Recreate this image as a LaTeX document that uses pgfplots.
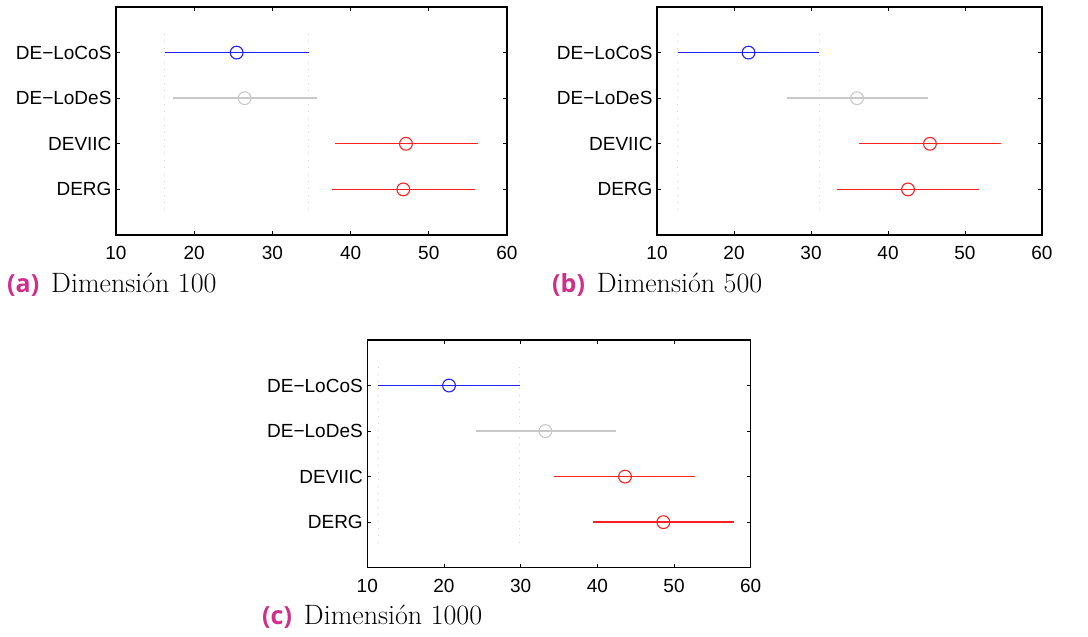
\documentclass[border=0pt]{standalone}
\usepackage{pgfplots}
\pgfplotsset{compat=1.18}
\usepackage{fontspec}
\newfontfamily\arialf{Liberation Sans}
\newfontfamily\capsf{Open Sans}
\definecolor{capmag}{HTML}{D02E8A}
\definecolor{ltgray}{HTML}{C8C8C8}
\definecolor{dotgray}{HTML}{D0D0D0}
\definecolor{mred}{HTML}{FF2020}
\definecolor{mblue}{HTML}{2020FF}
\pgfplotsset{
  panel/.style={
    scale only axis,
    xmin=10, xmax=60, ymin=0, ymax=5,
    y dir=reverse,
    ytick={1,2,3,4},
    yticklabels={DE−LoCoS,DE−LoDeS,DEVIIC,DERG},
    xtick={10,20,...,60},
    tick align=inside, tick pos=both,
    major tick length=4pt,
    axis line style={line width=1.3pt},
    tick style={black, line width=0.8pt},
    ticklabel style={font=\arialf\fontsize{19}{21}\selectfont},
    yticklabel style={xshift=-1pt},
    xticklabel style={yshift=-8pt},
    /pgf/number format/assume math mode=true,
  },
  seg/.style={line width=1.4pt, no marks},
  pt/.style={only marks, mark=o, mark size=6.4pt, mark options={line width=1.1pt}},
  grd/.style={dotgray, line width=1pt, dash pattern=on 1pt off 6pt, no marks},
}
\newcommand\subcap[2]{{\capsf\bfseries\fontsize{25}{28}\selectfont\color{capmag}(#1)}\hspace{12pt}{\fontsize{28}{31}\selectfont Dimensión #2}}
\begin{document}
\begin{tikzpicture}[x=1pt,y=1pt]
\path (0,0) rectangle (1088,637);
% ---------- (a) ----------
\begin{axis}[panel, at={(116pt,402pt)}, anchor=south west, width=391pt, height=228pt]
\addplot[grd] coordinates {(16.23,0.6) (16.23,4.5)};
\addplot[grd] coordinates {(34.64,0.6) (34.64,4.5)};
\addplot[seg, mblue] coordinates {(16.23,1) (34.64,1)};
\addplot[pt, mblue] coordinates {(25.43,1)};
\addplot[seg, ltgray] coordinates {(17.33,2) (35.66,2)};
\addplot[pt, ltgray] coordinates {(26.46,2)};
\addplot[seg, mred] coordinates {(38.00,3) (56.25,3)};
\addplot[pt, mred] coordinates {(47.08,3)};
\addplot[seg, mred] coordinates {(37.66,4) (55.90,4)};
\addplot[pt, mred] coordinates {(46.74,4)};
\end{axis}
% ---------- (b) ----------
\begin{axis}[panel, at={(657pt,402pt)}, anchor=south west, width=385pt, height=228pt]
\addplot[grd] coordinates {(12.72,0.6) (12.72,4.5)};
\addplot[grd] coordinates {(31.05,0.6) (31.05,4.5)};
\addplot[seg, mblue] coordinates {(12.72,1) (31.05,1)};
\addplot[pt, mblue] coordinates {(21.89,1)};
\addplot[seg, ltgray] coordinates {(26.82,2) (45.19,2)};
\addplot[pt, ltgray] coordinates {(35.98,2)};
\addplot[seg, mred] coordinates {(36.24,3) (54.62,3)};
\addplot[pt, mred] coordinates {(45.45,3)};
\addplot[seg, mred] coordinates {(33.43,4) (51.80,4)};
\addplot[pt, mred] coordinates {(42.60,4)};
\end{axis}
% ---------- (c) ----------
\begin{axis}[panel, at={(367.3pt,69.3pt)}, anchor=south west, width=383.4pt, height=227.7pt]
\addplot[grd] coordinates {(11.44,0.6) (11.44,4.5)};
\addplot[grd] coordinates {(29.87,0.6) (29.87,4.5)};
\addplot[seg, mblue] coordinates {(11.44,1) (29.87,1)};
\addplot[pt, mblue] coordinates {(20.66,1)};
\addplot[seg, ltgray] coordinates {(24.13,2) (42.44,2)};
\addplot[pt, ltgray] coordinates {(33.22,2)};
\addplot[seg, mred] coordinates {(34.39,3) (52.79,3)};
\addplot[pt, mred] coordinates {(43.61,3)};
\addplot[seg, mred] coordinates {(39.40,4) (57.79,4)};
\addplot[pt, mred] coordinates {(48.61,4)};
\end{axis}
% ---------- captions ----------
\node[anchor=base west, inner sep=0pt] at (7,344) {\subcap{a}{100}};
\node[anchor=base west, inner sep=0pt] at (552,344) {\subcap{b}{500}};
\node[anchor=base west, inner sep=0pt] at (262,12) {\subcap{c}{1000}};
\end{tikzpicture}
\end{document}
